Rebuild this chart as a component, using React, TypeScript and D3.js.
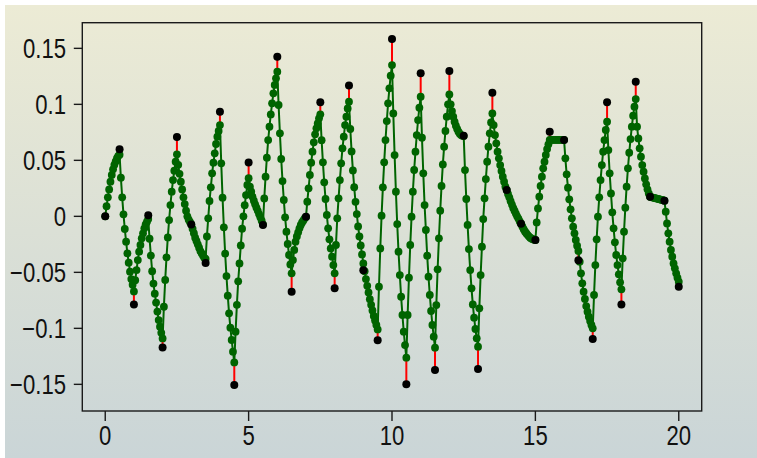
import React, { useEffect, useRef } from 'react'
import * as d3 from 'd3'

// sample instants are every 0.5 s, the trace has 11 steps inside each sample interval
const sampleStep = 0.5
const stepsPerSample = 11

// discrete samples (black dots)
const samples = [
  0, 0.060, -0.0786, 0.001, -0.117, 0.0708, -0.0072, -0.0417, 0.0934, -0.1506,
  0.048, -0.0077, 0.1426, -0.0673, -0.0003, 0.1018, -0.0643, 0.1169, -0.0482, -0.1107,
  0.1583, -0.150, 0.1277, -0.1372, 0.1297, 0.072, -0.1363, 0.1104, 0.0235, -0.0066,
  -0.0211, 0.0756, 0.0682, -0.0393, -0.1096, 0.1018, -0.0786, 0.1202, 0.0175, 0.014,
  -0.0628
]

// continuous response (green), starting value then one list per sample interval
const traceStart = 0
const traceSegments = [
  [0.009, 0.017, 0.024, 0.031, 0.037, 0.042, 0.046, 0.049, 0.052, 0.054, 0.055],
  [0.0345, 0.017, 0.0018, -0.0113, -0.0226, -0.033, -0.0414, -0.0494, -0.056, -0.061, -0.067],
  [-0.057, -0.048, -0.039, -0.0315, -0.0256, -0.0196, -0.0152, -0.0107, -0.0071, -0.0048, -0.0024],
  [-0.020, -0.035, -0.049, -0.060, -0.069, -0.077, -0.085, -0.0926, -0.0985, -0.104, -0.109],
  [-0.0807, -0.0568, -0.0366, -0.0188, -0.0033, 0.0101, 0.022, 0.0324, 0.0408, 0.0488, 0.0554],
  [0.046, 0.038, 0.031, 0.024, 0.017, 0.011, 0.005, 0.0, -0.003, -0.005, -0.007],
  [-0.011, -0.015, -0.019, -0.022, -0.025, -0.028, -0.031, -0.033, -0.035, -0.037, -0.038],
  [-0.018, -0.0018, 0.0137, 0.0259, 0.0384, 0.0479, 0.0563, 0.0646, 0.0711, 0.0762, 0.0815],
  [0.0473, 0.0167, -0.0098, -0.0333, -0.0533, -0.0708, -0.0866, -0.0994, -0.1104, -0.1208, -0.1304],
  [-0.103, -0.079, -0.058, -0.042, -0.026, -0.011, 0.0, 0.010, 0.019, 0.028, 0.034],
  [0.0265, 0.022, 0.0176, 0.014, 0.0107, 0.0077, 0.0048, 0.002, -0.0009, -0.0039, -0.0071],
  [0.016, 0.0354, 0.0524, 0.0681, 0.08, 0.091, 0.1009, 0.1098, 0.1173, 0.1232, 0.1292],
  [0.0994, 0.0741, 0.0512, 0.0315, 0.0146, -0.0009, -0.0137, -0.0247, -0.0345, -0.0429, -0.0509],
  [-0.039, -0.030, -0.0226, -0.018, -0.0143, -0.0107, -0.0077, -0.0054, -0.0036, -0.0018, -0.0006],
  [0.0131, 0.025, 0.0369, 0.0479, 0.0577, 0.0661, 0.0732, 0.0786, 0.083, 0.0875, 0.0911],
  [0.068, 0.0482, 0.0304, 0.0155, 0.0012, -0.0107, -0.0205, -0.0286, -0.036, -0.0435, -0.0509],
  [-0.0256, -0.0018, 0.0161, 0.0324, 0.0473, 0.0607, 0.0711, 0.0815, 0.089, 0.0964, 0.1024],
  [0.078, 0.058, 0.041, 0.026, 0.013, 0.002, -0.009, -0.018, -0.026, -0.034, -0.042],
  [-0.049, -0.056, -0.062, -0.068, -0.074, -0.079, -0.084, -0.089, -0.093, -0.097, -0.101],
  [-0.0628, -0.0286, 0.0006, 0.0259, 0.0482, 0.0681, 0.0851, 0.1009, 0.1143, 0.1256, 0.1351],
  [0.0919, 0.0547, 0.022, -0.0069, -0.0316, -0.0524, -0.0718, -0.0881, -0.103, -0.1149, -0.1262],
  [-0.0881, -0.0548, -0.0256, -0.0003, 0.022, 0.0414, 0.0577, 0.0726, 0.086, 0.097, 0.1068],
  [0.0702, 0.0384, 0.0101, -0.0122, -0.0351, -0.0539, -0.0702, -0.0845, -0.097, -0.1074, -0.1173],
  [-0.0792, -0.0473, -0.0196, 0.0051, 0.0271, 0.0464, 0.0622, 0.0762, 0.089, 0.1, 0.1089],
  [0.1, 0.094, 0.089, 0.0845, 0.0809, 0.078, 0.0756, 0.0738, 0.0726, 0.072, 0.0717],
  [0.0413, 0.0155, -0.0077, -0.0292, -0.048, -0.0643, -0.0786, -0.0905, -0.1006, -0.1089, -0.1164],
  [-0.0821, -0.0524, -0.0271, -0.0024, 0.0161, 0.0333, 0.0488, 0.0622, 0.0741, 0.0839, 0.0919],
  [0.0815, 0.0726, 0.0652, 0.0577, 0.0518, 0.0458, 0.0405, 0.0354, 0.031, 0.0265, 0.0235],
  [0.020, 0.017, 0.0135, 0.0105, 0.0075, 0.005, 0.0025, 0.0, -0.002, -0.0045, -0.0066],
  [-0.009, -0.0115, -0.0135, -0.015, -0.0165, -0.0178, -0.019, -0.0198, -0.0204, -0.0208, -0.0211],
  [-0.0054, 0.0071, 0.0176, 0.0271, 0.0354, 0.0429, 0.0488, 0.0548, 0.0601, 0.0643, 0.0682],
  [0.0683, 0.0683, 0.0683, 0.0683, 0.0683, 0.0683, 0.0683, 0.0683, 0.0683, 0.0683, 0.0683],
  [0.0518, 0.0375, 0.0256, 0.0152, 0.0063, -0.0018, -0.0092, -0.0152, -0.0211, -0.0262, -0.0309],
  [-0.0405, -0.0509, -0.0598, -0.0673, -0.0738, -0.0801, -0.0851, -0.0896, -0.0935, -0.097, -0.1],
  [-0.0702, -0.0435, -0.0205, -0.0003, 0.017, 0.0324, 0.0458, 0.0577, 0.0681, 0.0771, 0.0845],
  [0.0592, 0.0384, 0.0205, 0.0036, -0.0107, -0.0232, -0.0345, -0.0435, -0.0518, -0.0589, -0.0652],
  [-0.0375, -0.0137, 0.0077, 0.0265, 0.0429, 0.0568, 0.069, 0.0801, 0.0899, 0.0979, 0.1047],
  [0.0801, 0.0696, 0.0607, 0.0533, 0.0458, 0.0399, 0.0339, 0.0286, 0.0241, 0.0205, 0.0175],
  [0.0172, 0.0168, 0.0165, 0.0162, 0.0159, 0.0156, 0.0153, 0.015, 0.0147, 0.0144, 0.014],
  [0.0042, -0.0063, -0.0152, -0.0226, -0.03, -0.036, -0.042, -0.0464, -0.0509, -0.0548, -0.0583]
]

const xTicks = [0, 5, 10, 15, 20]
const yTicks = [-0.15, -0.1, -0.05, 0, 0.05, 0.1, 0.15]
const yTickLabels = ['\u22120.15', '\u22120.1', '\u22120.05', '0', '0.05', '0.1', '0.15']

function App() {
    const ref = useRef<SVGSVGElement>(null)

    useEffect(() => {
        const width = 757
        const height = 458
        const box = { left: 82.3, right: 701.7, top: 22.7, bottom: 411 }

        const svg = d3.select(ref.current)
        svg.selectAll('*').remove()

        // page background, beige at the top fading to grey-blue
        const grad = svg.append('defs')
            .append('linearGradient')
            .attr('id', 'bg')
            .attr('x1', 0).attr('y1', 0)
            .attr('x2', 0).attr('y2', 1)
        grad.append('stop').attr('offset', '0%').attr('stop-color', '#ecebd5')
        grad.append('stop').attr('offset', '100%').attr('stop-color', '#cad5d7')

        svg.append('rect')
            .attr('x', 5).attr('y', 5)
            .attr('width', width - 5).attr('height', height - 5)
            .attr('fill', 'url(#bg)')

        const x = d3.scaleLinear().domain([-0.8, 20.8]).range([box.left, box.right])
        const y = d3.scaleLinear().domain([-0.1738, 0.1729]).range([box.bottom, box.top])

        // flatten the trace
        const trace: [number, number][] = [[0, traceStart]]
        traceSegments.forEach((seg, k) => {
            seg.forEach((v, i) => {
                trace.push([k * sampleStep + (i + 1) * sampleStep / stepsPerSample, v])
            })
        })
        const traceAt = (k: number) => k === 0 ? traceStart : traceSegments[k - 1][stepsPerSample - 1]

        // error stems between sample and trace
        svg.append('g')
            .selectAll('line')
            .data(samples)
            .join('line')
            .attr('x1', (d, i) => x(i * sampleStep))
            .attr('x2', (d, i) => x(i * sampleStep))
            .attr('y1', d => y(d))
            .attr('y2', (d, i) => y(traceAt(i)))
            .attr('stroke', '#ff0000')
            .attr('stroke-width', 2)

        const line = d3.line<[number, number]>()
            .x(d => x(d[0]))
            .y(d => y(d[1]))

        svg.append('path')
            .datum(trace)
            .attr('d', line)
            .attr('fill', 'none')
            .attr('stroke', '#006400')
            .attr('stroke-width', 2)

        svg.append('g')
            .selectAll('circle')
            .data(trace)
            .join('circle')
            .attr('cx', d => x(d[0]))
            .attr('cy', d => y(d[1]))
            .attr('r', 3.9)
            .attr('fill', '#006400')

        svg.append('g')
            .selectAll('circle')
            .data(samples)
            .join('circle')
            .attr('cx', (d, i) => x(i * sampleStep))
            .attr('cy', d => y(d))
            .attr('r', 4)
            .attr('fill', '#000')

        // frame
        svg.append('rect')
            .attr('x', box.left).attr('y', box.top)
            .attr('width', box.right - box.left)
            .attr('height', box.bottom - box.top)
            .attr('fill', 'none')
            .attr('stroke', '#1a1a1a')
            .attr('stroke-width', 1.4)

        const font = '"Liberation Sans", Arial, sans-serif'

        // y axis
        const gy = svg.append('g')
        gy.selectAll('line')
            .data(yTicks)
            .join('line')
            .attr('x1', box.left - 8.5).attr('x2', box.left)
            .attr('y1', d => y(d)).attr('y2', d => y(d))
            .attr('stroke', '#1a1a1a')
            .attr('stroke-width', 1.4)
        gy.selectAll('text')
            .data(yTicks)
            .join('text')
            .attr('transform', d => `translate(66,${y(d) + 9.8}) scale(0.82,1)`)
            .attr('text-anchor', 'end')
            .style('font-family', font)
            .style('font-size', '27px')
            .attr('fill', '#111')
            .text((d, i) => yTickLabels[i])

        // x axis
        const gx = svg.append('g')
        gx.selectAll('line')
            .data(xTicks)
            .join('line')
            .attr('x1', d => x(d)).attr('x2', d => x(d))
            .attr('y1', box.bottom).attr('y2', box.bottom + 10)
            .attr('stroke', '#1a1a1a')
            .attr('stroke-width', 1.4)
        gx.selectAll('text')
            .data(xTicks)
            .join('text')
            .attr('transform', d => `translate(${x(d)},445) scale(0.82,1)`)
            .attr('text-anchor', 'middle')
            .style('font-family', font)
            .style('font-size', '27px')
            .attr('fill', '#111')
            .text(d => String(d))
    }, [])

    return (
        <svg ref={ref} width={757} height={458}
            style={{ position: 'absolute', left: 0, top: 0, background: '#fff' }} />
    )
}

export default App
